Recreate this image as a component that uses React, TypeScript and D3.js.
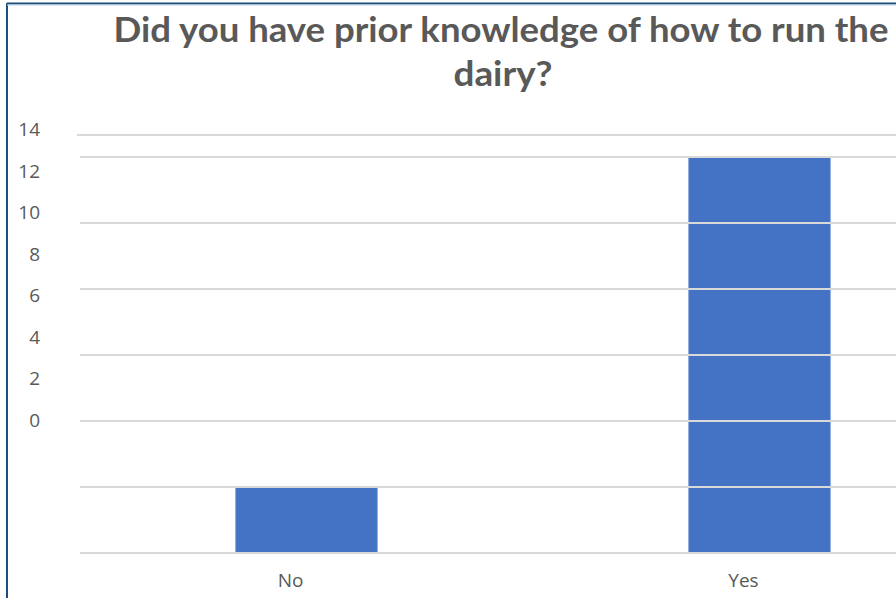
import React from "react";
import * as d3 from "d3";

const categories = ["No", "Yes"];
const values = [2, 12];
const gridValues = [0, 2, 4, 6, 8, 10, 12];
const tickLabels = [14, 12, 10, 8, 6, 4, 2, 0];
const titleLines = ["Did you have prior knowledge of how to run the", "dairy?"];

const W = 896;
const H = 598;

export default function App() {
  // plot geometry
  const plotLeft = 80;
  const plotRight = 986;
  const plotBottom = 553;
  const x = d3.scaleBand<string>().domain(categories).range([plotLeft, plotRight]).paddingInner(0.687).paddingOuter(0.3435);
  const y = d3.scaleLinear().domain([0, 12]).range([plotBottom, 157]);
  // tick labels as drawn in the reference (their own spacing)
  const labelY = d3.scaleLinear().domain([0, 14]).range([420, 129.5]);
  const topLineY = y(12.67);
  const textColor = "#595959";
  const titleFont = "Lato, 'Open Sans', sans-serif";
  const font = "'Open Sans', 'Noto Sans', sans-serif";

  return (
    <svg width={W} height={H} style={{ position: "absolute", left: 0, top: 0 }} fontFamily={font}>
      <rect x={0} y={0} width={W} height={H} fill="#ffffff" />
      <line x1={7} x2={7} y1={3} y2={H} stroke="#1F4E79" strokeWidth={2} />
      <line x1={7} x2={W} y1={3.5} y2={3.5} stroke="#1F4E79" strokeWidth={2} />
      <line x1={7} x2={W} y1={5} y2={5} stroke="#BDD7EE" strokeWidth={1} />
      {titleLines.map((t, i) => (
        <text
          key={i}
          x={i === 0 ? 501 : 503}
          y={42 + i * 44}
          textAnchor="middle"
          fontSize={34}
          fontWeight="bold"
          fill={textColor}
          fontFamily={titleFont}
          textLength={i === 0 ? 775 : 99}
          lengthAdjust="spacingAndGlyphs"
        >
          {t}
        </text>
      ))}
      {categories.map((c, i) => (
        <rect key={c} x={x(c)} y={y(values[i])} width={x.bandwidth()} height={plotBottom - y(values[i])} fill="#4472C4" stroke="#8FAADC" strokeWidth={1} />
      ))}
      <line x1={77} x2={W} y1={topLineY} y2={topLineY} stroke="#D9D9D9" strokeWidth={2} />
      {gridValues.map((v) => (
        <line key={v} x1={plotLeft} x2={W} y1={y(v)} y2={y(v)} stroke="#D9D9D9" strokeWidth={2} />
      ))}
      {tickLabels.map((v) => (
        <text key={v} x={40} y={labelY(v)} dy="0.35em" textAnchor="end" fontSize={19} fill={textColor}>
          {v}
        </text>
      ))}
      {categories.map((c) => (
        <text key={c} x={(x(c) as number) + x.bandwidth() / 2 - 16} y={580} dy="0.35em" textAnchor="middle" fontSize={19} fill={textColor}>
          {c}
        </text>
      ))}
    </svg>
  );
}
